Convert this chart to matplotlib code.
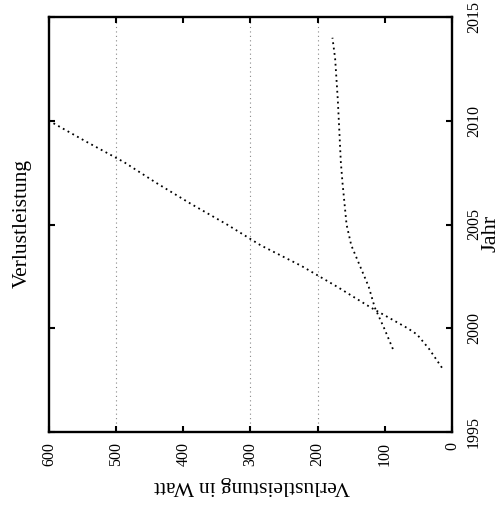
import matplotlib
matplotlib.use("Agg")
import matplotlib.pyplot as plt

plt.rcParams['font.family'] = ['Liberation Serif', 'DejaVu Serif']

# Power loss over the years (watts), two development paths
years_a = [1998.1, 1999.0, 1999.7, 2000, 2001, 2002, 2003, 2004, 2005, 2006, 2007, 2008, 2009, 2010]
power_a = [15, 34, 52, 66, 121, 171, 224, 285, 335, 389, 440, 488, 545, 600]

years_b = [1999, 2000, 2001, 2002, 2003, 2004, 2005, 2006, 2007, 2008, 2009, 2010, 2011, 2012, 2013, 2014]
power_b = [88, 101, 115, 124, 137, 150, 157, 160, 163, 165.5, 167, 168.5, 170, 172, 174, 178]

power_ticks = [0, 100, 200, 300, 400, 500, 600]
year_ticks = [1995, 2000, 2005, 2010, 2015]
grid_power = [200, 300, 500]

title = "Verlustleistung"
power_label = "Verlustleistung in Watt"
year_label = "Jahr"

fig = plt.figure(figsize=(4.99, 5.08), dpi=100)
ax = fig.add_axes([49/499, 1-432/508, (452-49)/499, (432-17)/508])

for gp in grid_power:
    ax.axvline(gp, color='#888888', lw=0.8, ls=(0, (1, 3)), zorder=1)

ax.plot(power_a, years_a, color='black', lw=1.3, ls=(0, (1, 2)), zorder=3)
ax.plot(power_b, years_b, color='black', lw=1.3, ls=(0, (1, 2)), zorder=3)

ax.set_xlim(600, 0)
ax.set_ylim(1995, 2015)
ax.set_xticks(power_ticks)
ax.set_yticks(year_ticks)
ax.yaxis.tick_right()
ax.tick_params(axis='both', direction='in', length=4, width=1.5,
               top=True, bottom=True, left=True, right=True,
               labelsize=11.5)
ax.tick_params(axis='x', pad=7, labelrotation=90)
ax.tick_params(axis='y', pad=10, labelrotation=90)
for lbl in ax.get_yticklabels():
    lbl.set_verticalalignment('center')
for sp in ax.spines.values():
    sp.set_linewidth(1.7)

fig.text(22/499, 1-223/508, title, rotation=90, ha='center', va='center', fontsize=15.5)
fig.text(252/499, 1-486/508, power_label, rotation=180, ha='center', va='center', fontsize=15.5)
fig.text(491/499, 1-233/508, year_label, rotation=90, ha='center', va='center', fontsize=16)

fig.savefig("out.png", dpi=100)
